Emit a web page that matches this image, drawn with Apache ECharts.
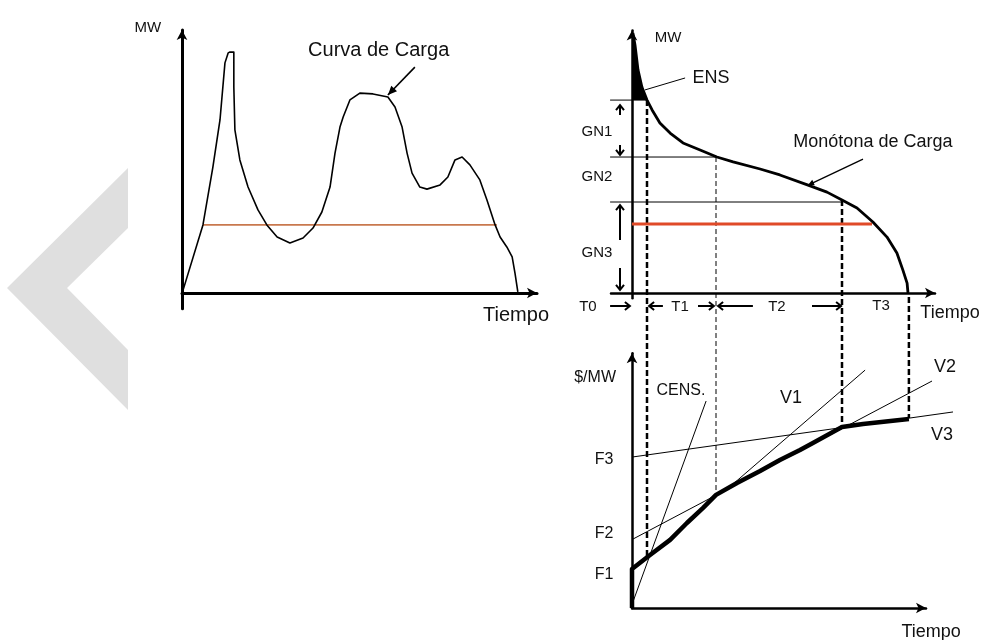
<!DOCTYPE html>
<html><head><meta charset="utf-8">
<script src="https://cdn.jsdelivr.net/npm/echarts@6/dist/echarts.min.js"></script>
<style>html,body{margin:0;padding:0;background:#fff}#c{width:982px;height:640px}</style>
</head><body><div id="c"></div>
<script>
// ---------- Left chart: daily load curve (time %, MW %) ----------
const loadCurve = [[0.3,1.1],[5.9,25.9],[8.7,47.9],[10.7,65.8],[12.1,87.5],[13.0,91.3],[13.5,91.6],[14.6,91.6],[14.6,78.3],[14.9,62.0],[16.3,50.6],[18.6,40.3],[21.4,31.6],[23.9,25.9],[26.8,21.3],[30.4,19.0],[34.1,20.9],[36.9,24.7],[39.4,30.8],[41.7,40.3],[43.1,53.2],[44.5,63.1],[45.4,66.9],[47.3,73.4],[50.1,76.0],[53.8,75.7],[58.0,74.5],[60.0,70.7],[62.0,63.1],[63.4,53.2],[64.8,45.6],[67.0,40.3],[69.0,39.5],[72.7,41.1],[74.9,44.1],[76.9,50.6],[78.9,51.7],[81.1,48.7],[83.9,43.0],[85.9,35.4],[88.2,25.9],[89.6,21.3],[91.5,17.5],[93.0,13.7],[93.8,7.6],[94.6,0.4]];
const leftMeanLine = [[5.9,25.9],[88.7,25.9]];
const leftCallout = [[65.6,85.9,58.0,75.3]];
const leftLabelsBig = [['Curva de Carga',55.4,92.4],['Tiempo',94.1,-8.7]];
const leftLabelsSmall = [['MW',-9.6,100.8]];

// ---------- Right top: load duration curve ----------
const durationCurve = [[0.3,100],[1.0,95.4],[2.0,85.8],[3.3,79.2],[5.0,74.2],[6.7,70.4],[9.3,65.4],[12.7,61.5],[17.0,57.7],[22.7,55.0],[28.3,52.3],[33.7,50.4],[42.7,47.7],[49.3,45.4],[58.7,41.5],[65.0,38.8],[70.0,35.8],[75.0,32.7],[80.3,27.3],[85.0,21.5],[88.3,15.4],[90.3,8.8],[91.7,3.8],[92.0,0]];
const ensArea = [[0,100],[0.3,100],[1.0,95.4],[2.0,85.8],[3.3,79.2],[5.0,74.2],[0,74.2]];
const gnLines = [[[-7.3,74.2],[5.0,74.2]],[[-7.3,52.3],[28.3,52.3]],[[-7.3,35.0],[70.0,35.0]]];
const rightMeanLine = [[0,26.5],[80.0,26.5]];
const boundThick = [[[5.0,74.2],[5.0,-101.5]],[[70.0,35.8],[70.0,-51.5]],[[92.3,-1.5],[92.3,-48.1]]];
const boundThin = [[[28.0,52.3],[28.0,-77.7]]];
const ensLeader = [[17.7,82.7],[4.3,78.1]];
const monoCallout = [[77.0,51.5,58.7,41.5]];
const gnArrows = [[-4,68.5,-4,72.3],[-4,56.9,-4,53.1],[-4,20.4,-4,33.8],[-4,9.6,-4,1.2]];
const tArrows = [[-7.3,-5,-0.7,-5],[10.3,-5,5.7,-5],[22.0,-5,27.3,-5],[40.3,-5,28.7,-5],[60.0,-5,69.7,-5]];
const topLabelsBig = [['ENS',26.3,82.7],['Monótona de Carga',80.3,58.1],['Tiempo',106,-7.7]];
const topLabelsSmall = [['MW',12.0,98.1],['GN1',-11.7,61.9],['GN2',-11.7,44.6],['GN3',-11.7,15.4],['T0',-14.7,-5.4],['T1',16.0,-5.4],['T2',48.3,-5.4],['T3',83.0,-5.0]];

// ---------- Right bottom: cost curves ----------
const costCurve = [[0,0],[0,15.0],[6.0,20.4],[12.7,26.2],[18.3,32.7],[23.7,38.5],[28.0,43.5],[35.0,48.1],[42.7,52.7],[49.3,56.9],[56.0,60.8],[60.3,63.5],[70.0,69.6],[77.0,70.8],[92.3,72.7]];
const censLine = [[0.3,2.3],[24.7,79.6]];
const v1Line = [[33.7,47.7],[77.7,91.5]];
const v2Line = [[0.3,26.5],[100,87.3]];
const v3Line = [[0.3,58.1],[107,75.4]];
const botLabelsBig = [['V1',53.0,80.8],['V2',104.3,92.7],['V3',103.3,66.5],['Tiempo',99.7,-9.2]];
const botLabelsSmall = [['$/MW',-12.3,88.5],['F3',-9.3,56.9],['F2',-9.3,28.8],['F1',-9.3,12.7],['CENS.',16.3,83.8]];

const FONT = '"Liberation Sans", Arial, sans-serif';
const chart = echarts.init(document.getElementById('c'), null, {renderer:'canvas'});

function axisPair(gi, xmin, xmax, ymin, ymax, w) {
  const line = {show:true, onZero:true, symbol:['none','arrow'], symbolSize:[8,10], lineStyle:{color:'#000', width:w}};
  return {
    x: {type:'value', gridIndex:gi, min:xmin, max:xmax, axisLine:line, axisTick:{show:false}, axisLabel:{show:false}, splitLine:{show:false}},
    y: {type:'value', gridIndex:gi, min:ymin, max:ymax, axisLine:line, axisTick:{show:false}, axisLabel:{show:false}, splitLine:{show:false}}
  };
}
const A = axisPair(0, 0, 100, -6, 100, 3);
const B = axisPair(1, -7, 101, -2, 101, 2.5);
const C = axisPair(2, 0, 98, 0, 98, 2.5);

// polyline through the axes' scales, not clipped to the grid
function lineS(ai, pts, style, z) {
  return {type:'custom', xAxisIndex:ai, yAxisIndex:ai, silent:true, animation:false, clip:false, z:z||2,
    data: pts, encode:{x:0, y:1},
    renderItem: (params, api) => {
      if (params.dataIndex !== 0) return null;
      return {type:'polyline', shape:{points: pts.map(p => api.coord(p))},
        style:{stroke:style.color, lineWidth:style.width, lineDash:style.dash || null, fill:null, lineJoin:'round'}};
    }};
}
function textS(ai, labels, size) {
  return {type:'custom', xAxisIndex:ai, yAxisIndex:ai, silent:true, animation:false, clip:false, z:6,
    data: labels.map(l => [l[1], l[2]]), encode:{x:0, y:1},
    renderItem: (params, api) => {
      const p = api.coord([api.value(0), api.value(1)]);
      return {type:'text', x:p[0], y:p[1], style:{text:labels[params.dataIndex][0], fill:'#111', font:size+'px '+FONT, align:'center', verticalAlign:'middle'}};
    }};
}
function arrowS(ai, list, opt) {
  return {type:'custom', xAxisIndex:ai, yAxisIndex:ai, silent:true, animation:false, clip:false, z:5,
    data:list, encode:{x:[0,2], y:[1,3]},
    renderItem: (params, api) => {
      const a = api.coord([api.value(0), api.value(1)]);
      const b = api.coord([api.value(2), api.value(3)]);
      const dx = b[0]-a[0], dy = b[1]-a[1], L = Math.hypot(dx,dy) || 1, ux = dx/L, uy = dy/L;
      const base = [b[0]-ux*opt.head, b[1]-uy*opt.head];
      const l = [base[0]-uy*opt.hw, base[1]+ux*opt.hw], r = [base[0]+uy*opt.hw, base[1]-ux*opt.hw];
      const ch = [{type:'line', shape:{x1:a[0],y1:a[1],x2:b[0],y2:b[1]}, style:{stroke:'#000', lineWidth:opt.w}}];
      if (opt.filled) ch.push({type:'polygon', shape:{points:[b,l,r]}, style:{fill:'#000'}});
      else ch.push({type:'polyline', shape:{points:[l,b,r]}, style:{stroke:'#000', lineWidth:opt.hl, fill:null}});
      return {type:'group', children:ch};
    }};
}

const series = [];
// left
series.push(lineS(0, leftMeanLine, {color:'#c8784e', width:1.6}, 1));
series.push(lineS(0, loadCurve, {color:'#000', width:1.6}, 3));
series.push(arrowS(0, leftCallout, {w:1.6, head:9, hw:4, filled:true}));
series.push(textS(0, leftLabelsBig, 20));
series.push(textS(0, leftLabelsSmall, 15));
// right top
series.push({type:'custom', xAxisIndex:1, yAxisIndex:1, silent:true, animation:false, clip:false, z:3,
  data: ensArea, encode:{x:0, y:1},
  renderItem: (params, api) => {
    if (params.dataIndex !== 0) return null;
    return {type:'polygon', shape:{points: ensArea.map(p => api.coord(p))}, style:{fill:'#000'}};
  }});
gnLines.forEach(s => series.push(lineS(1, s, {color:'#000', width:1}, 2)));
boundThick.forEach(s => series.push(lineS(1, s, {color:'#000', width:2.5, dash:[6,3]}, 2)));
boundThin.forEach(s => series.push(lineS(1, s, {color:'#000', width:1, dash:[5,3]}, 2)));
series.push(lineS(1, rightMeanLine, {color:'#e04a28', width:3}, 3));
series.push(lineS(1, durationCurve, {color:'#000', width:2.8}, 4));
series.push(lineS(1, ensLeader, {color:'#000', width:1}, 4));
series.push(arrowS(1, monoCallout, {w:1.3, head:6, hw:3, filled:true}));
series.push(arrowS(1, gnArrows, {w:2, head:5, hw:4, filled:false, hl:2}));
series.push(arrowS(1, tArrows, {w:2, head:5, hw:4, filled:false, hl:2}));
series.push(textS(1, topLabelsBig, 18));
series.push(textS(1, topLabelsSmall, 15));
// right bottom
series.push(lineS(2, censLine, {color:'#000', width:1}, 2));
series.push(lineS(2, v1Line, {color:'#000', width:1}, 2));
series.push(lineS(2, v2Line, {color:'#000', width:1}, 2));
series.push(lineS(2, v3Line, {color:'#000', width:1}, 2));
series.push(lineS(2, costCurve, {color:'#000', width:4.5}, 4));
series.push(textS(2, botLabelsBig, 18));
series.push(textS(2, botLabelsSmall, 16));

chart.setOption({
  backgroundColor:'#fff',
  animation:false,
  graphic:[{type:'polygon', z:-10, silent:true,
    shape:{points:[[128,168],[7,288],[128,410],[128,350],[67,288],[128,228]]},
    style:{fill:'#dfdfdf'}}],
  grid:[
    {left:182, top:30, width:355, height:278.8, containLabel:false, outerBoundsMode:'none'},
    {left:611, top:30.4, width:324, height:267.8, containLabel:false, outerBoundsMode:'none'},
    {left:632, top:353.2, width:294, height:254.8, containLabel:false, outerBoundsMode:'none'}
  ],
  xAxis:[A.x, B.x, C.x],
  yAxis:[A.y, B.y, C.y],
  series: series
});
</script></body></html>
